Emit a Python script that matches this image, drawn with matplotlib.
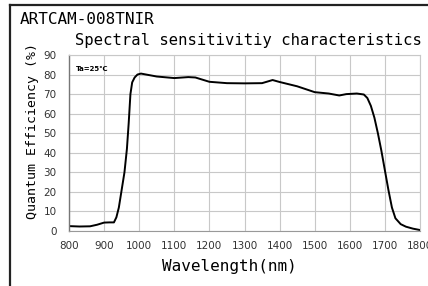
import matplotlib.pyplot as plt
from matplotlib.lines import Line2D

# values
wavelength = [800, 830, 860, 880, 900, 915, 928, 935, 942, 950, 958, 965, 970, 975,
              980, 987, 995, 1005, 1020, 1050, 1100, 1140, 1160, 1200, 1250, 1300,
              1350, 1365, 1380, 1400, 1450, 1500, 1540, 1570, 1590, 1620, 1640, 1650,
              1660, 1670, 1680, 1690, 1700, 1710, 1720, 1730, 1745, 1760, 1780, 1800]
efficiency = [2.5, 2.3, 2.4, 3.2, 4.3, 4.4, 4.4, 7, 12, 21, 30, 42, 55, 70,
              76, 78.5, 80, 80.5, 80, 79, 78.2, 78.7, 78.5, 76.3, 75.6, 75.5,
              75.6, 76.4, 77.2, 76.2, 74, 71, 70.3, 69.3, 70, 70.3, 69.8, 68,
              64, 58, 50, 41, 31, 21, 12, 6.5, 3.5, 2.2, 1.2, 0.5]

xticks = list(range(800, 1801, 100))
yticks = list(range(0, 91, 10))

fig = plt.figure(figsize=(4.28, 2.86), dpi=100)
ax = fig.add_axes([69/428, 1-231/286, 351/428, 176/286])

ax.plot(wavelength, efficiency, color='black', linewidth=1.4)
ax.set_xlim(800, 1800)
ax.set_ylim(0, 90)
ax.set_xticks(xticks)
ax.set_yticks(yticks)
ax.grid(True, color='#c8c8c8', linewidth=0.8)
ax.tick_params(axis='both', length=0, labelsize=7.5, labelcolor='#333333')
ax.tick_params(axis='x', pad=7)
ax.tick_params(axis='y', pad=9)
for s in ['top', 'right']:
    ax.spines[s].set_color('#c8c8c8')
ax.spines['left'].set_color('#777777')
ax.spines['bottom'].set_color('#999999')
ax.spines['left'].set_linewidth(1.0)

ax.text(0.02, 0.92, 'Ta=25℃', transform=ax.transAxes, fontsize=5, fontweight='bold',
        family=['DejaVu Sans', 'Noto Sans CJK JP'], va='center', ha='left')

mono = 'DejaVu Sans Mono'
fig.text(20/428, 1-20/286, 'ARTCAM-008TNIR', fontsize=11.5, family=mono, va='center', ha='left')
fig.text(75/428, 1-40/286, 'Spectral sensitivitiy characteristics', fontsize=11.2, family=mono,
         va='center', ha='left')
fig.text(229/428, 1-267/286, 'Wavelength(nm)', fontsize=11.5, family=mono, va='center', ha='center')
fig.text(33/428, 1-131/286, 'Quantum Efficiency (%)', fontsize=9.5, family=mono, rotation=90,
         va='center', ha='center')

# frame around the figure
fig.add_artist(Line2D([10/428, 10/428], [0, 1-5/286], color='#222222', linewidth=1.6))
fig.add_artist(Line2D([10/428, 1], [1-5/286, 1-5/286], color='#222222', linewidth=1.6))

fig.savefig('out.png', dpi=100)
